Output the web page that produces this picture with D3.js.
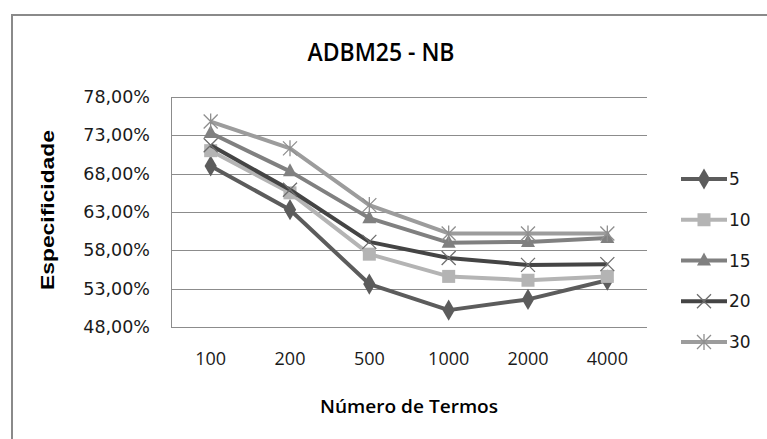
<!DOCTYPE html>
<html><head><meta charset="utf-8">
<script src="https://cdn.jsdelivr.net/npm/d3@7"></script>
<style>body{margin:0;background:#fff;}svg{display:block;}</style>
</head><body>
<svg id="c" width="767" height="439"></svg>
<script>
const categories = ["100","200","500","1000","2000","4000"];
const seriesNames = ["5","10","15","20","30"];
const s5  = [69.0, 63.3, 53.6, 50.2, 51.6, 54.1];
const s10 = [71.0, 65.5, 57.5, 54.6, 54.1, 54.6];
const s15 = [73.3, 68.3, 62.2, 59.0, 59.1, 59.6];
const s20 = [71.7, 65.9, 59.1, 57.0, 56.1, 56.2];
const s30 = [74.8, 71.3, 63.9, 60.2, 60.2, 60.2];
const yTicks = [48,53,58,63,68,73,78];
const title = "ADBM25 - NB";
const xTitle = "Número de Termos";
const yTitle = "Especificidade";

const seriesValues = [s5, s10, s15, s20, s30];
const colors = ["#5c5c5c","#b4b4b4","#808080","#444444","#9c9c9c"];
const markers = ["diamond","square","triangle","x","asterisk"];

const svg = d3.select("#c");
svg.append("rect").attr("x",0).attr("y",0).attr("width",767).attr("height",439).attr("fill","#fff");
// outer border
svg.append("path").attr("d","M12,445 V15 H770").attr("fill","none").attr("stroke","#8a8a8a").attr("stroke-width",2);

const L=171, R=647, T=97, B=327;
const x = d3.scaleBand().domain(categories).range([L,R]);
const y = d3.scaleLinear().domain([48,78]).range([B,T]);

// gridlines
svg.append("g").selectAll("line").data(yTicks).join("line")
  .attr("x1",L).attr("x2",R).attr("y1",d=>Math.round(y(d))+0.5).attr("y2",d=>Math.round(y(d))+0.5)
  .attr("stroke","#8c8c8c").attr("stroke-width",1);
// left axis line
svg.append("line").attr("x1",L+0.5).attr("x2",L+0.5).attr("y1",T).attr("y2",B+1).attr("stroke","#8c8c8c");

// y axis labels
const yAxis = d3.axisLeft(y).tickValues(yTicks).tickSize(0).tickPadding(21)
  .tickFormat(d=>d3.format(".2f")(d).replace(".",",")+"%");
const gy = svg.append("g").attr("transform",`translate(${L},0)`).call(yAxis);
gy.select(".domain").remove();
gy.selectAll("text").attr("font-family","DejaVu Sans").attr("font-size",17.5).attr("fill","#1a1a1a");

// x axis labels
const xAxis = d3.axisBottom(x).tickSize(0).tickPadding(25);
const gx = svg.append("g").attr("transform",`translate(0,${B})`).call(xAxis);
gx.select(".domain").remove();
gx.selectAll("text").attr("font-family","Open Sans").attr("font-size",18).attr("fill","#1a1a1a");

// titles
svg.append("text").attr("x",381).attr("y",61).attr("text-anchor","middle")
  .attr("font-family","Open Sans").attr("font-weight",600).attr("font-size",25)
  .attr("textLength",147).attr("lengthAdjust","spacingAndGlyphs").attr("fill","#000").text(title);
svg.append("text").attr("x",409).attr("y",413).attr("text-anchor","middle")
  .attr("font-family","Open Sans").attr("font-weight",600).attr("font-size",17.5)
  .attr("textLength",178).attr("lengthAdjust","spacingAndGlyphs").attr("fill","#000").text(xTitle);
svg.append("text").attr("transform","translate(54,210) rotate(-90)").attr("text-anchor","middle")
  .attr("font-family","Liberation Sans").attr("font-weight","bold").attr("font-size",18)
  .attr("textLength",160).attr("lengthAdjust","spacingAndGlyphs").attr("fill","#000").text(yTitle);

function drawMarker(g, type, cx, cy, color){
  if(type==="diamond"){
    g.append("path").attr("d",d3.symbol(d3.symbolDiamond,130)()).attr("transform",`translate(${cx},${cy})`).attr("fill",color);
  } else if(type==="square"){
    g.append("rect").attr("x",cx-6.5).attr("y",cy-6.5).attr("width",13).attr("height",13).attr("fill",color);
  } else if(type==="triangle"){
    g.append("path").attr("d",`M${cx},${cy-8} L${cx+7},${cy+5} L${cx-7},${cy+5}Z`).attr("fill",color);
  } else if(type==="x"){
    g.append("path").attr("d",`M${cx-7},${cy-7} L${cx+7},${cy+7} M${cx+7},${cy-7} L${cx-7},${cy+7}`).attr("stroke","#6e6e6e").attr("stroke-width",1.3).attr("fill","none");
  } else if(type==="asterisk"){
    g.append("path").attr("d",`M${cx-7},${cy-7} L${cx+7},${cy+7} M${cx+7},${cy-7} L${cx-7},${cy+7} M${cx},${cy-8} L${cx},${cy+8}`).attr("stroke","#8f8f8f").attr("stroke-width",1.3).attr("fill","none");
  }
}

const line = d3.line().x((d,i)=>x(categories[i])+x.bandwidth()/2).y(d=>y(d));
seriesValues.forEach((vals,si)=>{
  const g = svg.append("g");
  g.append("path").attr("d",line(vals)).attr("fill","none").attr("stroke",colors[si]).attr("stroke-width",4).attr("stroke-linejoin","round");
  vals.forEach((v,i)=>drawMarker(g, markers[si], x(categories[i])+x.bandwidth()/2, y(v), colors[si]));
});

// legend
const legY = d3.scalePoint().domain(seriesNames).range([179,342]);
seriesNames.forEach((n,si)=>{
  const g = svg.append("g");
  const cy = legY(n);
  g.append("line").attr("x1",681).attr("x2",727).attr("y1",cy).attr("y2",cy).attr("stroke",colors[si]).attr("stroke-width",4);
  drawMarker(g, markers[si], 704, cy, colors[si]);
  g.append("text").attr("x",729).attr("y",cy+6).attr("font-family","DejaVu Sans").attr("font-size",17).attr("fill","#1a1a1a").text(n);
});
</script>
</body></html>
